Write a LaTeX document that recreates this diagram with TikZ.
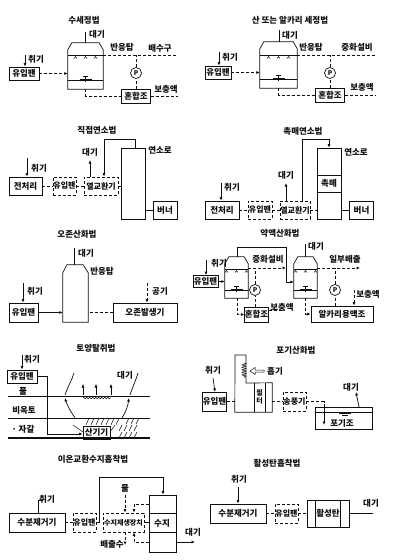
\documentclass[tikz,border=0pt]{standalone}
\usepackage{xcolor}
\usepackage{fontspec}
\setmainfont{Noto Sans CJK KR}
\usepackage{tikz}
\usetikzlibrary{arrows.meta}
\usetikzlibrary{decorations.pathmorphing}
\usetikzlibrary{positioning,fit,calc}
\definecolor{scanink}{RGB}{15,15,15}
\newcommand{\smalltext}{\fontsize{7}{8}\selectfont\bfseries}
\tikzset{
  every node/.style={font=\fontsize{8.5}{9.5}\selectfont\bfseries,text=scanink,inner sep=0pt},
  vbox/.style={draw=scanink,line width=0.7pt,minimum height=13pt},
  dbox/.style={vbox,densely dashed,font=\fontsize{8}{9}\selectfont\bfseries},
  pumpmark/.style={draw=scanink,circle,line width=0.7pt,minimum size=11pt,font=\fontsize{6.5}{7}\selectfont\bfseries,fill=white},
  pipe/.style={draw=scanink,line width=0.7pt},
  wet/.style={pipe,densely dashed},
  tip/.style={-{Latex[length=3.5pt,width=3pt]}},
  ground/.style={draw=scanink,line width=0.9pt},
}
% vessel with a cut top: name, left, right, top, bottom, spray level, bed level
\newcommand{\towerbody}[7]{
  \coordinate (#1nw) at (#2,#4);
  \coordinate (#1se) at (#3,#5);
  \node[fit=(#1nw)(#1se)] (#1) {};
  \draw[pipe] (#1.south west) -- ([yshift=-7pt]#1.north west) -- ([xshift=4pt]#1.north west)
    -- ([xshift=-4pt]#1.north east) -- ([yshift=-7pt]#1.north east) -- (#1.south east) -- cycle;
  \draw[pipe] (#1.west |- 0,#6) -- (#1.east |- 0,#6);
  \draw[pipe] (#1.west |- 0,#7) -- (#1.east |- 0,#7);
  \pgfmathsetmacro{\cx}{(#2+#3)/2}
  \foreach \dx in {-10,0,10}{
    \draw[pipe,line width=0.5pt] (\cx+\dx-1.5,#6+3.5) -- (\cx+\dx,#6+1.5) -- (\cx+\dx+1.5,#6+3.5);}
  \draw[pipe,line width=0.9pt] (\cx-6,#7-0.8) -- (\cx+6,#7-0.8);
  \draw[pipe,line width=0.5pt] (\cx-2.5,#7-4) -- (\cx+2.5,#7-4) (\cx,#7-4) -- (\cx,#7+2);
}

\begin{document}
\begin{tikzpicture}[x=1pt,y=-1pt]
  \useasboundingbox (0,0) rectangle (406,560);

  % water scrubbing
  \node (titleA) at (84,20) {수세정법};
  \towerbody{towerA}{68}{103}{43}{89}{55}{80}
  \node[vbox,minimum width=30pt] (fanA) at (24,73.5) {유입팬};
  \node[vbox,minimum width=29pt,minimum height=14pt] (mixA) at (136,96) {혼합조};
  \node[pumpmark] (pumpA) at (136,73) {P};
  \node (gasA) at (36,59) {취기};
  \node (airA) at (97,34) {대기};
  \node (lblA) at (122,47) {반응탑};
  \node (drainA) at (160,48) {배수구};
  \node (feedA) at (166,89) {보충액};
  \coordinate (inA) at (25,55);
  \coordinate (ventA) at (85,32);
  \coordinate (outA) at (178,55);
  \coordinate (addA) at (178,96);
  \draw[pipe,tip] (inA) -- (inA |- fanA.north);
  \draw[pipe] (ventA |- towerA.north) -- (ventA);
  \draw[wet,tip] (fanA.east) -- (fanA.east -| towerA.west);
  \draw[wet] (towerA.east |- outA) -- (outA);
  \draw[wet] (pumpA) -- (pumpA |- outA);
  \draw[wet] (mixA) -- (pumpA);
  \draw[wet] (towerA.south) |- (mixA.west);
  \draw[wet] (mixA.east) -- (addA);

  % acid or alkali scrubbing
  \node (titleB) at (290,20) {산 또는 알카리 세정법};
  \towerbody{towerB}{260}{297}{42}{88}{55}{79}
  \node[vbox,minimum width=26pt] (fanB) at (218,72.5) {유입팬};
  \node[vbox,minimum width=29pt,minimum height=14pt] (mixB) at (330,95) {혼합조};
  \node[pumpmark] (pumpB) at (330,73) {P};
  \node (gasB) at (230,57) {취기};
  \node (airB) at (290,35) {대기};
  \node (lblB) at (311,47) {반응탑};
  \node (neutB) at (357,47) {중화설비};
  \node (feedB) at (362,87) {보충액};
  \coordinate (inB) at (219,52);
  \coordinate (ventB) at (279,30);
  \coordinate (outB) at (375,55);
  \coordinate (addB) at (375,95);
  \draw[pipe,tip] (inB) -- (inB |- fanB.north);
  \draw[pipe] (ventB |- towerB.north) -- (ventB);
  \draw[wet,tip] (fanB.east) -- (fanB.east -| towerB.west);
  \draw[wet] (towerB.east |- outB) -- (outB);
  \draw[wet] (pumpB) -- (pumpB |- outB);
  \draw[wet] (mixB) -- (pumpB);
  \draw[wet] (towerB.south) |- (mixB.west);
  \draw[wet] (mixB.east) -- (addB);

  % direct combustion
  \node (titleC) at (97,130) {직접연소법};
  \node[vbox,minimum width=33pt,minimum height=18pt] (preC) at (25.5,186) {전처리};
  \node[dbox,minimum width=23pt,minimum height=18pt] (fanC) at (64.5,186) {유입팬};
  \node[dbox,minimum width=34pt,minimum height=18pt] (heatC) at (101,186) {열교환기};
  \node[vbox,minimum width=24pt,minimum height=71pt] (furnC) at (133,183.5) {};
  \node[vbox,minimum width=24pt,minimum height=18pt] (burnC) at (165,210) {버너};
  \node (gasC) at (39,168) {취기};
  \node (airC) at (90,152) {대기};
  \node (lblC) at (160,150) {연소로};
  \coordinate (inC) at (27,158);
  \coordinate (ventC) at (90,160);
  \coordinate (topC) at (135,139);
  \coordinate (backC) at (104,139);
  \draw[pipe,tip] (inC) -- (inC |- preC.north);
  \draw[wet] (preC) -- (fanC);
  \draw[wet] (fanC) -- (heatC);
  \draw[wet] (heatC) -- (heatC -| furnC.west);
  \draw[pipe,tip] (ventC |- heatC.north) -- (ventC);
  \draw[pipe,tip] (topC |- furnC.north) -- (topC) -- (backC) -- (backC |- heatC.north);
  \draw[pipe] (burnC) -- (burnC -| furnC.east);

  % catalytic combustion
  \node (titleD) at (303,131) {촉매연소법};
  \node[vbox,minimum width=34pt,minimum height=18pt] (preD) at (222,210) {전처리};
  \node[dbox,minimum width=24pt,minimum height=18pt] (fanD) at (260,210) {유입팬};
  \node[dbox,minimum width=30pt,minimum height=18pt] (heatD) at (295,210) {열교환기};
  \node[vbox,minimum width=24pt,minimum height=71pt] (furnD) at (329,183.5) {};
  \node[vbox,minimum width=24pt,minimum height=18pt] (burnD) at (361.5,210) {버너};
  \node (catD) at (329,183) {촉매};
  \node (gasD) at (232,187) {취기};
  \node (airD) at (286,175) {대기};
  \node (lblD) at (356,152) {연소로};
  \coordinate (inD) at (221,183);
  \coordinate (ventD) at (286,183);
  \coordinate (topD) at (329,139);
  \coordinate (backD) at (302,139);
  \draw[pipe] (furnD.west |- 0,175) -- (furnD.east |- 0,175);
  \draw[pipe] (furnD.west |- 0,192) -- (furnD.east |- 0,192);
  \draw[pipe,tip] (inD) -- (inD |- preD.north);
  \draw[wet] (preD) -- (fanD);
  \draw[wet] (fanD) -- (heatD);
  \draw[wet] (heatD) -- (heatD -| furnD.west);
  \draw[pipe,tip] (ventD |- heatD.north) -- (ventD);
  \draw[pipe,tip] (backD |- heatD.north) -- (backD) -- (topD) -- (topD |- furnD.north);
  \draw[pipe] (burnD) -- (burnD -| furnD.east);

  % ozone oxidation
  \node (titleE) at (77,234) {오존산화법};
  \coordinate (towerEnw) at (63,265);
  \coordinate (towerEse) at (88,322);
  \node[fit=(towerEnw)(towerEse)] (towerE) {};
  \draw[pipe] (towerE.south west) -- ([yshift=-8pt]towerE.north west) -- ([xshift=4pt]towerE.north west)
    -- ([xshift=-5pt]towerE.north east) -- ([yshift=-8pt]towerE.north east) -- (towerE.south east) -- cycle;
  \node[vbox,minimum width=29pt,minimum height=19pt] (fanE) at (23.5,312.5) {유입팬};
  \node[vbox,minimum width=64pt,minimum height=19pt] (ozoneE) at (145,312.5) {오존발생기};
  \node (gasE) at (35,291) {취기};
  \node (airE) at (86,253) {대기};
  \node (lblE) at (102,271) {반응탑};
  \node (blowE) at (160,291) {공기};
  \coordinate (inE) at (23,283);
  \coordinate (ventE) at (74,248);
  \coordinate (intakeE) at (147,283);
  \draw[pipe,tip] (inE) -- (inE |- fanE.north);
  \draw[pipe] (ventE |- towerE.north) -- (ventE);
  \draw[pipe,tip] (fanE.east) -- (fanE.east -| towerE.west);
  \draw[wet] (ozoneE.west) -- (ozoneE.west -| towerE.east);
  \draw[wet,tip] (intakeE) -- (intakeE |- ozoneE.north);

  % chemical oxidation
  \node (titleF) at (280,233) {약액산화법};
  \towerbody{towerF}{225}{248}{257}{298}{269}{290}
  \towerbody{towerG}{294}{317}{257}{298}{269}{290}
  \node[vbox,minimum width=25pt,minimum height=12pt] (fanF) at (205.5,281.5) {유입팬};
  \node[vbox,minimum width=23pt,minimum height=15pt] (mixF) at (256.5,314.5) {혼합조};
  \node[vbox,minimum width=62pt,minimum height=16pt] (tankG) at (342,314) {알카리용액조};
  \node[pumpmark] (pumpF) at (255,290) {P};
  \node[pumpmark] (pumpG) at (335,290) {P};
  \node (gasF) at (219,263) {취기};
  \node (airG) at (316,246) {대기};
  \node (neutF) at (268,259) {중화설비};
  \node (partG) at (345,259) {일부배출};
  \node (feedF) at (282,307) {보충액};
  \node (feedG) at (368,294) {보충액};
  \coordinate (inF) at (206,260);
  \coordinate (ventG) at (305,244);
  \coordinate (upF) at (237,247);
  \coordinate (rightF) at (286,247);
  \coordinate (downF) at (286,282);
  \coordinate (outF) at (286,268);
  \coordinate (outG) at (360,268);
  \coordinate (addF) at (285,310);
  \coordinate (addG) at (354,290);
  \draw[pipe,tip] (inF) -- (inF |- fanF.north);
  \draw[pipe,tip] (fanF.east) -- (fanF.east -| towerF.west);
  \draw[pipe] (upF |- towerF.north) -- (upF) -- (rightF) -- (downF);
  \draw[pipe,tip] (downF) -- (downF -| towerG.west);
  \draw[pipe] (ventG |- towerG.north) -- (ventG);
  \draw[wet,tip] (towerF.east |- outF) -- (outF);
  \draw[wet,tip] (towerG.east |- outG) -- (outG);
  \draw[wet] (pumpF) -- (pumpF |- outF);
  \draw[wet] (pumpG) -- (pumpG |- outG);
  \draw[wet] (mixF.north -| pumpF) -- (pumpF);
  \draw[wet] (tankG.north -| pumpG) -- (pumpG);
  \draw[wet,tip] (upF |- towerF.south) |- (mixF.west);
  \draw[wet,tip] (ventG |- towerG.south) |- (tankG.west);
  \draw[wet] (addF -| mixF.east) -- (addF);
  \draw[wet,tip] (addG) -- (addG |- tankG.north);

  % soil deodorising
  \node (titleH) at (96,348) {토양탈취법};
  \node[vbox,minimum width=30pt] (fanH) at (22,376.5) {유입팬};
  \node[vbox,minimum width=27pt,minimum height=13pt] (diffH) at (96.5,432.5) {산기기};
  \node (gasH) at (32,359) {취기};
  \node (grassH) at (23,391) {풀};
  \node (soilH) at (24,410) {비옥토};
  \node (graveH) at (23,429) {· 자갈};
  \node (airH) at (125,375) {대기};
  \coordinate (inH) at (22,355);
  \draw[pipe,tip] (inH) -- (inH |- fanH.north);
  \draw[pipe,tip] (fanH.east) -- ++(10,0) |- ([yshift=-1.5pt]diffH.west);
  \foreach \y/\w in {396/0.9,418/0.9,438/1.1}{
    \draw[ground,line width=\w pt] (8,\y) -- (150,\y);}
  % air rising through the soil
  \draw[pipe,tip] (75,418) .. controls (71,412) and (67,405) .. (65,398);
  \draw[pipe] (65,395) .. controls (68,386) and (72,380) .. (74,373);
  \draw[pipe,tip] (122,418) .. controls (126,412) and (128,405) .. (129,398);
  \draw[pipe] (130,395) .. controls (133,386) and (136,380) .. (138,373);
  \foreach \x in {83,96,111}{
    \draw[pipe,tip,line width=0.5pt] (\x,395) -- (\x,384);}
  \draw[pipe,line width=0.5pt,decorate,decoration={zigzag,segment length=3pt,amplitude=0.8pt}] (83,398) -- (111,398);
  % gravel around the diffuser
  \foreach \x in {86,91,...,116}{
    \draw[pipe,line width=0.5pt] (\x,425) -- (\x+3,418);}
  \foreach \x/\y in {126/421,131/421,136/421,119/428,124/428,129/428,134/428,119/435,124/435,129/435,134/435}{
    \draw[pipe,line width=0.5pt] (\x,\y+3) -- (\x+3,\y-3);}
  \draw[pipe,line width=0.5pt] (73,425) -- (83,432);
  \draw[pipe,line width=0.5pt] (115,425) -- (110,432);

  % aeration oxidation
  \node (titleI) at (296,350) {포기산화법};
  \node[vbox,minimum width=23pt,minimum height=19pt] (fanI) at (214.5,401.5) {유입팬};
  \node[dbox,minimum width=23pt,minimum height=19pt] (blowI) at (294.5,401.5) {송풍기};
  \node[fit={(235,383)(272,412)}] (stackI) {};
  \draw[pipe] (stackI.south west) -- (235,355) -- (246,355) -- (246,383) -- (stackI.north east) -- (stackI.south east) -- cycle;
  \draw[pipe] (254,383) -- (254,412);
  \draw[pipe] (265,383) -- (265,412);
  \node[align=center,font=\fontsize{7}{8}\selectfont\bfseries] (filtI) at (259.5,397) {필\\터};
  \draw[pipe,line width=0.5pt,decorate,decoration={coil,segment length=2.5pt,amplitude=2pt,aspect=0}] (244,363) -- (244,378);
  \node (inhaleI) at (275,371) {흡기};
  \coordinate (arrEndI) at (250,371);
  % open block arrow towards the coil
  \draw[pipe,line width=0.5pt] (arrEndI) -- ++(5,-3.5) -- ++(0,2.5) -- ++(9,0) -- ++(0,2) -- ++(-9,0) -- ++(0,2.5) -- cycle;
  \node (gasI) at (213,370) {취기};
  \coordinate (inI) at (213,378);
  \draw[pipe,tip] (inI) -- (215,392);
  \draw[wet] (fanI.east) -- (fanI.east -| stackI.west);
  \draw[wet] (stackI.east |- blowI) -- (blowI.west);
  \node[vbox,minimum width=57pt,minimum height=22pt] (tankI) at (343.5,418) {};
  \node (tankLbl) at (342,423) {포기조};
  \draw[pipe] (tankI.west |- 0,412) -- (tankI.east |- 0,412);
  \draw[pipe,line width=1pt] (339,413.5) -- (351,413.5);
  \draw[pipe,line width=0.5pt] (342,415.5) -- (348,415.5);
  \coordinate (dropI) at (324,425);
  \draw[wet] (blowI.east) -| (dropI |- tankI.north);
  \draw[pipe,tip] (dropI |- tankI.north) -- (dropI);
  \node (airI) at (351,387) {대기};
  \coordinate (ventI) at (356,392);
  \draw[pipe,tip] (359,407) -- (ventI);

  % ion exchange resin
  \node (titleJ) at (93,459) {이온교환수지흡착법};
  \node[vbox,minimum width=56pt,minimum height=19pt] (dryJ) at (37,522.5) {수분제거기};
  \node[dbox,minimum width=23pt,minimum height=19pt] (fanJ) at (84.5,522.5) {유입팬};
  \node[dbox,minimum width=41pt,minimum height=19pt,font=\smalltext] (regenJ) at (123.5,522.5) {수지재생장치};
  \node[vbox,minimum width=27pt,minimum height=57pt] (resinJ) at (162.5,523.5) {};
  \node (resinLbl) at (162,523) {수지};
  \node (gasJ) at (47,499) {취기};
  \node (waterJ) at (125,488) {물};
  \node (wasteJ) at (112,544) {배출수};
  \node (airJ) at (193,532) {대기};
  \coordinate (inJ) at (38,500);
  \coordinate (hookJ) at (43,500);
  \coordinate (loopJ) at (99,477);
  \coordinate (topJ) at (163,477);
  \coordinate (waterEnd) at (125,495);
  \coordinate (wasteEnd) at (125,545);
  \coordinate (upJ) at (134,504);
  \coordinate (lowJ) at (134,542);
  \coordinate (outJ) at (195,542);
  \draw[pipe] (dryJ.north -| inJ) -- (inJ) -- (hookJ);
  \draw[wet] (dryJ) -- (fanJ);
  \draw[pipe,tip] (fanJ.east) -- (loopJ |- fanJ) -- (loopJ) -- (topJ) -- (topJ |- resinJ.north);
  \draw[wet,tip] (waterEnd) -- (waterEnd |- regenJ.north);
  \draw[wet,tip] (regenJ.south -| wasteEnd) -- (wasteEnd);
  \draw[wet,tip] (upJ -| resinJ.west) -- (upJ) -- (upJ |- regenJ.north);
  \draw[wet,tip] (lowJ -| resinJ.west) -- (lowJ) -- (lowJ |- regenJ.south);
  \draw[pipe] (regenJ) -- (regenJ -| resinJ.west);
  \draw[pipe] (resinJ.west |- 0,513) -- (resinJ.east |- 0,513);
  \draw[pipe] (resinJ.west |- 0,532) -- (resinJ.east |- 0,532);
  \draw[pipe,tip] (outJ -| resinJ.east) -- (outJ);

  % activated carbon
  \node (titleK) at (277,463) {활성탄흡착법};
  \node[vbox,minimum width=56pt,minimum height=19pt] (dryK) at (238,513.5) {수분제거기};
  \node[dbox,minimum width=23pt,minimum height=19pt] (fanK) at (286.5,513.5) {유입팬};
  \node[vbox,minimum width=42pt,minimum height=27pt] (carbK) at (328,513.5) {활성탄};
  \node (gasK) at (239,479) {취기};
  \node (airK) at (371,503) {대기};
  \coordinate (inK) at (238,487);
  \coordinate (outK) at (373,513.5);
  \draw[pipe,tip] (inK) -- (inK |- dryK.north);
  \draw[wet] (dryK) -- (fanK);
  \draw[wet] (fanK) -- (carbK);
  \draw[pipe] (carbK.north -| 315,0) -- (carbK.south -| 315,0);
  \draw[pipe] (carbK.north -| 340,0) -- (carbK.south -| 340,0);
  \draw[pipe] (carbK.east) -- (outK);
\end{tikzpicture}
\end{document}
